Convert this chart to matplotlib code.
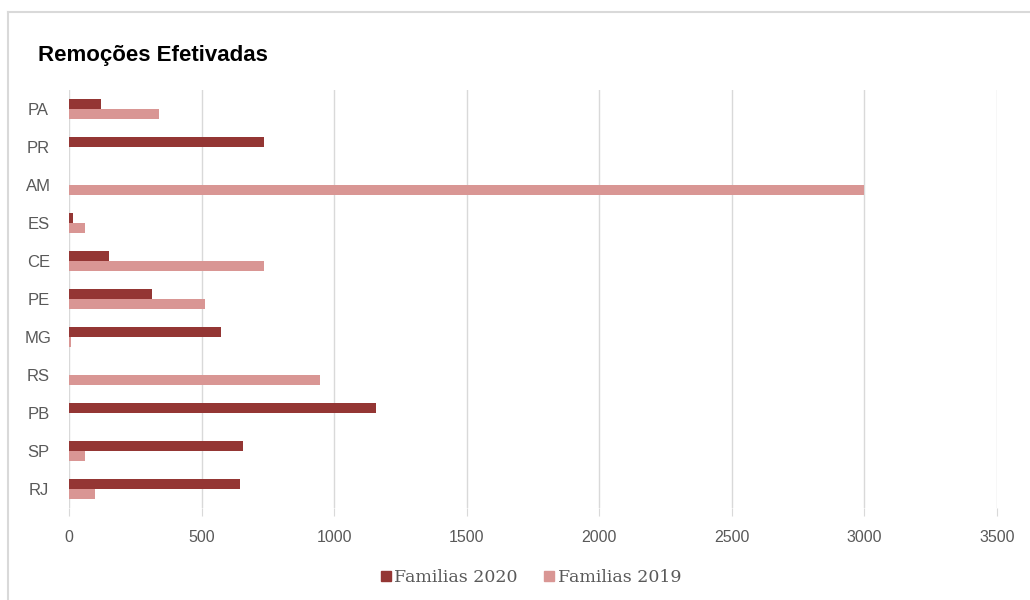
import matplotlib
matplotlib.use("Agg")
import matplotlib.pyplot as plt
import numpy as np
from matplotlib.lines import Line2D

DARK, LIGHT, GRID, TXT = "#943634", "#D99694", "#D9D9D9", "#595959"

states = ["PA", "PR", "AM", "ES", "CE", "PE", "MG", "RS", "PB", "SP", "RJ"]
fam_2020 = [120, 735, 0, 15, 152, 314, 573, 0, 1156, 658, 644]
fam_2019 = [340, 0, 3000, 62, 735, 514, 9, 948, 0, 62, 99]
xticks = [0, 500, 1000, 1500, 2000, 2500, 3000, 3500]

SANS = ["Liberation Sans", "DejaVu Sans"]

fig = plt.figure(figsize=(10.3, 6), dpi=100)
ax = fig.add_axes([69 / 1030, 1 - 508 / 600, (997 - 69) / 1030, (508 - 90) / 600])

y = np.arange(len(states))
h = 0.27
ax.barh(y - h / 2, fam_2020, h, color=DARK, zorder=3)
ax.barh(y + h / 2, fam_2019, h, color=LIGHT, zorder=3)

ax.set_ylim(len(states) - 0.5, -0.5)
ax.set_xlim(0, 3500)
ax.set_xticks(xticks)
ax.set_xticklabels([str(t) for t in xticks], family=SANS, fontsize=11.5, color=TXT)
ax.set_yticks(y)
ax.set_yticklabels(states, family=SANS, fontsize=12, color=TXT, ha="center",
                   va="center_baseline")
# short grey ticks continue the gridlines just below the plot
ax.tick_params(axis="x", length=6, color=GRID, pad=10)
ax.tick_params(axis="y", length=0, pad=22)
ax.grid(axis="x", color=GRID, lw=1, zorder=0)
for s in ax.spines.values():
    s.set_visible(False)

fig.text(38 / 1030, 1 - 55 / 600, "Remoções Efetivadas", family=SANS,
         fontsize=16, fontweight="bold", color="black", va="center", ha="left")

# outer chart frame: top and left edges only
fig.add_artist(Line2D([8 / 1030, 1], [1 - 12 / 600] * 2, color=GRID, lw=1.5))
fig.add_artist(Line2D([8 / 1030] * 2, [0, 1 - 12 / 600], color=GRID, lw=1.5))

handles = [Line2D([], [], marker="s", ls="", color=DARK, markersize=7),
           Line2D([], [], marker="s", ls="", color=LIGHT, markersize=7)]
fig.legend(handles, ["Familias 2020", "Familias 2019"], loc="center",
           bbox_to_anchor=(530 / 1030, 1 - 578 / 600), ncol=2, frameon=False,
           handletextpad=0.1, columnspacing=1.4, handlelength=0.8,
           prop={"family": ["DejaVu Serif"], "size": 12.5}, labelcolor=TXT)

fig.savefig("out.png", dpi=100)
